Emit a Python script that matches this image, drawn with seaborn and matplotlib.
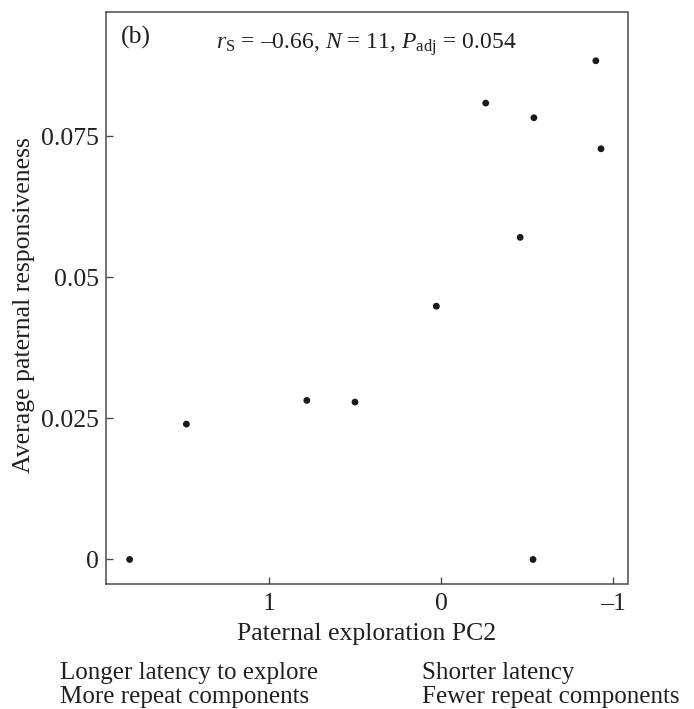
import matplotlib
matplotlib.use("Agg")
import matplotlib.pyplot as plt
import seaborn as sns
import pandas as pd

# Data
pc2 = [1.81, 1.48, 0.78, 0.50, 0.027, -0.26, -0.46, -0.54, -0.90, -0.93, -0.535]
responsiveness = [0.0, 0.0240, 0.0282, 0.0279, 0.0449, 0.0809, 0.0571, 0.0783, 0.0884, 0.0728, 0.0]
x_ticks = [1, 0, -1]
x_tick_labels = ["1", "0", "\u20131"]
y_ticks = [0, 0.025, 0.05, 0.075]
y_tick_labels = ["0", "0.025", "0.05", "0.075"]

df = pd.DataFrame({"pc2": pc2, "resp": responsiveness})

sns.set_style("ticks")
plt.rcParams["font.family"] = ["Liberation Serif", "DejaVu Serif"]
plt.rcParams["mathtext.fontset"] = "custom"
plt.rcParams["mathtext.rm"] = "Liberation Serif"
plt.rcParams["mathtext.it"] = "Liberation Serif:italic"
plt.rcParams["mathtext.bf"] = "Liberation Serif:bold"

TXT = "#231f20"
FS = 18.5

fig = plt.figure(figsize=(6.94, 7.09), dpi=100)
ax = fig.add_axes([105.7 / 694, 1 - 584.3 / 709, (627.5 - 105.7) / 694, (584.3 - 11.7) / 709])

sns.scatterplot(data=df, x="pc2", y="resp", ax=ax, color="#1a1a1a", s=24,
                edgecolor="none", linewidth=0, legend=False)

ax.set_xlim(1.949, -1.084)
ax.set_ylim(-0.0044, 0.0971)
ax.set_xticks(x_ticks)
ax.set_xticklabels(x_tick_labels)
ax.set_yticks(y_ticks)
ax.set_yticklabels(y_tick_labels)

for sp in ax.spines.values():
    sp.set_visible(True)
    sp.set_color("#4a4a4a")
    sp.set_linewidth(1.1)

ax.tick_params(axis="both", direction="in", length=5, width=1.0, color="#4a4a4a",
               labelsize=FS, labelcolor=TXT)
ax.tick_params(axis="x", pad=6)
ax.tick_params(axis="y", pad=5)

ax.set_xlabel("Paternal exploration PC2", fontsize=FS, color=TXT)
ax.set_ylabel("Average paternal responsiveness", fontsize=FS, color=TXT)
ax.xaxis.set_label_coords(0.5, -0.068)
ax.yaxis.set_label_coords(-0.136, 0.488)

ax.text(0.029, (584.3 - 44) / 572.6, "(b)", transform=ax.transAxes, ha="left",
        va="baseline", fontsize=FS, color=TXT)
stat = "$r_{\\mathrm{S}}$ = \u20130.66, $N$ = 11, $P_{\\mathrm{adj}}$ = 0.054"
ax.text(0.5, (584.3 - 49) / 572.6, stat,
        transform=ax.transAxes, ha="center", va="baseline", fontsize=17, color=TXT)

FB = 18
fig.text(60 / 694, 1 - 673 / 709, "Longer latency to explore", ha="left", va="center",
         fontsize=FB, color=TXT)
fig.text(60 / 694, 1 - 697 / 709, "More repeat components", ha="left", va="center",
         fontsize=FB, color=TXT)
fig.text(422 / 694, 1 - 673 / 709, "Shorter latency", ha="left", va="center",
         fontsize=FB, color=TXT)
fig.text(422 / 694, 1 - 697 / 709, "Fewer repeat components", ha="left", va="center",
         fontsize=FB, color=TXT)

fig.savefig("out.png", dpi=100)
